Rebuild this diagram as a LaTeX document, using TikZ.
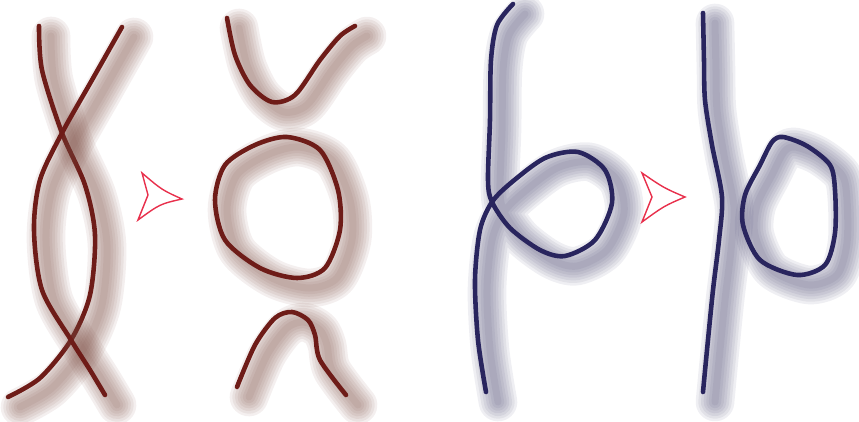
\documentclass[tikz,border=0pt]{standalone}
\usetikzlibrary{positioning}
\definecolor{maroon}{HTML}{6E1C18}
\definecolor{maroonshade}{HTML}{7A4A40}
\definecolor{navy}{HTML}{29255E}
\definecolor{navyshade}{HTML}{4A4770}
\definecolor{crimson}{HTML}{E8304C}
\tikzset{strand/.style={line width=2.6pt,line cap=round,line join=round}, ghost/.style={line cap=round,line join=round,opacity=0.085}, notch/.style={draw=crimson,line width=0.8pt,line join=miter}}
% blurred shadow, then the strand itself
\newcommand\shadedstrand[3]{%
  \foreach \w in {22,19,16,13,10,7,4}{\draw[ghost,draw=#1,line width=\w pt,shift={(12,10)}] #3;}
  \draw[strand,draw=#2] #3;}

\begin{document}
\begin{tikzpicture}[x=0.02cm,y=-0.02cm]
\useasboundingbox (0,0) rectangle (859,422);
% two crossings
\shadedstrand{maroonshade}{maroon}{plot[smooth] coordinates {(39,26) (42,70) (62,133) (85,185) (95,235) (90,295) (71,340) (40,378) (8,397)}}
\shadedstrand{maroonshade}{maroon}{plot[smooth] coordinates {(122,27) (92,80) (62,133) (40,180) (34,230) (42,290) (71,340) (90,370) (105,395)}}
\draw[notch] (142,173) .. controls (162,190) .. (182,199) .. controls (160,204) .. (138,220) -- (148,195) -- cycle;
% resolved
\shadedstrand{maroonshade}{maroon}{plot[smooth] coordinates {(227,18) (235,55) (250,85) (272,102) (295,95) (320,60) (340,36) (355,26)}}
\shadedstrand{maroonshade}{maroon}{plot[smooth cycle] coordinates {(287,137) (255,145) (225,165) (215,200) (225,240) (260,268) (297,278) (325,268) (340,230) (338,190) (320,150)}}
\shadedstrand{maroonshade}{maroon}{plot[smooth] coordinates {(237,387) (255,345) (275,318) (292,312) (308,320) (315,335) (320,360) (346,395)}}
% kink
\shadedstrand{navyshade}{navy}{plot[smooth] coordinates {(513,4) (497,25) (491,60) (490,120) (488,180) (492,202) (510,228) (540,250) (565,256) (595,240) (612,203) (605,170) (578,152) (545,158) (512,182) (492,202) (480,230) (475,280) (478,340) (486,392)}}
\draw[notch] (642,173) .. controls (664,188) .. (685,197) .. controls (664,206) .. (642,222) -- (652,197) -- cycle;
% kink removed
\shadedstrand{navyshade}{navy}{plot[smooth] coordinates {(703,13) (704,60) (705,100) (712,145) (722,197) (719,240) (713,290) (707,350) (703,392)}}
\shadedstrand{navyshade}{navy}{plot[smooth cycle] coordinates {(783,137) (772,142) (760,165) (745,195) (743,225) (760,260) (797,275) (825,265) (835,233) (835,190) (830,165) (807,146)}}
\end{tikzpicture}
\end{document}
